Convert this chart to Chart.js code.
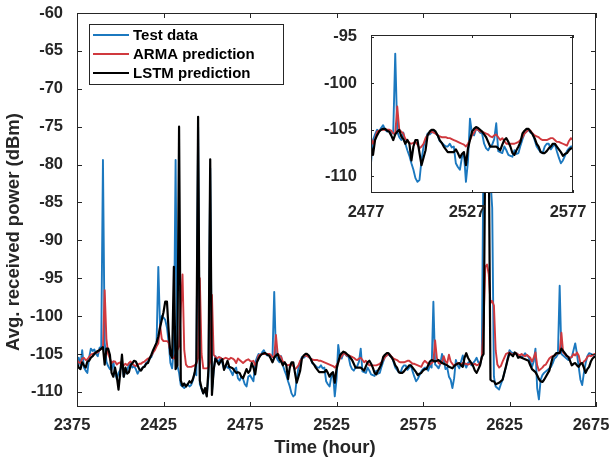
<!DOCTYPE html>
<html>
<head>
<meta charset="utf-8">
<script src="https://cdn.jsdelivr.net/npm/chart.js@4.4.1/dist/chart.umd.min.js"></script>
<style>
	body { margin: 0; background: #fff; overflow: hidden; }
	#wrap { position: relative; width: 610px; height: 458px; }
	#mainChart { position: absolute; left: 0; top: 0; }
	#insetChart { position: absolute; left: 300px; top: 25px; }
</style>
</head>
<body>
<div id="wrap">
	<canvas id="mainChart" width="610" height="458"></canvas>
	<canvas id="insetChart" width="295" height="200"></canvas>
</div>
<script>
// hourly received power, first sample at hour 2375
const firstHour = 2375;

const testData = [
	-107.1, -105.5, -106.5, -104.5, -106.8, -107.2, -107.5, -105.5, -104.3, -104.6, // 2375
	-104.4, -105.0, -105.3, -104.2, -104.0, -79.4, -103.5, -106.0, -106.6, -107.0,
	-107.1, -106.0, -107.5, -108.3, -107.5, -107.1, -106.2, -108.0, -107.3, -107.1,
	-106.5, -106.2, -106.8, -106.6, -107.0, -107.6, -107.2, -107.1, -106.8, -106.6,
	-106.2, -106.0, -105.6, -105.4, -104.8, -104.2, -103.5, -93.5, -101.4, -100.0,
	-100.2, -100.5, -101.5, -103.5, -106.2, -106.9, -104.0, -79.4, -106.5, -107.5, // 2425
	-109.1, -109.3, -109.5, -109.2, -109.0, -109.3, -109.1, -108.5, -107.5, -107.8,
	-75.0, -109.0, -109.6, -110.2, -109.6, -110.5, -108.0, -80.5, -110.0, -107.2,
	-105.3, -105.8, -106.0, -105.5, -106.2, -107.0, -106.5, -106.8, -106.9, -107.3,
	-107.8, -107.0, -106.8, -108.2, -108.5, -108.0, -108.3, -109.0, -109.3, -108.0,
	-107.8, -108.2, -108.6, -106.1, -105.5, -105.0, -105.2, -104.8, -104.5, -105.0, // 2475
	-105.2, -105.0, -105.3, -105.4, -96.8, -105.2, -105.8, -106.1, -105.3, -106.5,
	-107.2, -107.8, -108.6, -109.3, -110.2, -110.6, -110.4, -108.3, -106.8, -106.1,
	-105.4, -105.5, -105.3, -105.2, -105.4, -105.6, -106.2, -106.4, -106.6, -106.8,
	-106.8, -106.5, -106.9, -106.8, -108.6, -109.0, -109.3, -108.0, -107.5, -110.6,
	-108.4, -103.8, -105.4, -105.6, -104.9, -105.0, -105.3, -105.4, -106.5, -107.0, // 2525
	-107.2, -106.8, -106.6, -106.0, -104.3, -107.3, -107.4, -107.5, -106.8, -107.2,
	-107.7, -107.8, -107.9, -107.2, -107.6, -107.5, -106.7, -106.0, -105.4, -105.2,
	-105.0, -105.3, -105.4, -106.1, -106.8, -107.1, -107.4, -107.5, -106.8, -106.5,
	-106.5, -107.1, -106.8, -106.5, -107.3, -108.0, -108.6, -108.3, -107.8, -107.3,
	-107.0, -106.8, -106.8, -107.2, -106.5, -106.8, -98.1, -106.4, -106.6, -106.9, // 2575
	-106.3, -105.0, -105.8, -107.0, -106.8, -108.0, -108.4, -109.5, -108.2, -105.8,
	-106.5, -106.9, -106.0, -105.2, -106.3, -106.8, -106.2, -106.0, -106.5, -106.2,
	-105.9, -105.5, -106.1, -106.4, -105.3, -77.0, -76.0, -78.0, -80.0, -82.0,
	-85.7, -108.0, -109.3, -109.5, -109.7, -109.0, -108.4, -107.5, -106.7, -105.5,
	-104.5, -104.8, -104.9, -105.0, -104.9, -105.1, -105.3, -105.4, -105.2, -104.9, // 2625
	-105.2, -105.4, -106.0, -106.7, -106.0, -104.3, -109.5, -111.0, -108.4, -107.8,
	-107.5, -107.3, -107.1, -106.9, -106.7, -106.2, -105.6, -105.4, -105.0, -96.0,
	-105.0, -105.2, -105.4, -105.6, -105.8, -105.6, -105.4, -104.5, -103.6, -105.0,
	-106.7, -108.4, -109.1, -107.5, -106.2, -105.3, -104.9, -105.0, -105.1, -105.3,
	-105.4 // 2675
];

const armaData = [
	-105.8, -106.1, -106.2, -105.6, -105.5, -105.8, -105.7, -105.4, -105.1, -105.0, // 2375
	-104.9, -104.8, -104.8, -104.5, -104.3, -104.2, -96.6, -103.0, -105.0, -105.6,
	-106.2, -106.0, -106.0, -106.4, -106.2, -106.1, -106.5, -106.5, -106.3, -106.5,
	-106.2, -106.0, -106.3, -106.5, -106.6, -106.4, -106.3, -106.3, -106.1, -106.0,
	-105.8, -105.6, -105.5, -105.2, -104.8, -104.5, -104.0, -103.6, -101.2, -103.0,
	-103.3, -103.3, -103.3, -103.5, -104.8, -105.5, -105.6, -105.0, -104.5, -104.0, // 2425
	-99.0, -94.5, -104.5, -106.4, -106.7, -106.7, -106.7, -106.6, -106.5, -106.3,
	-105.5, -95.0, -105.0, -106.9, -106.9, -106.9, -106.8, -106.0, -97.2, -105.1,
	-105.4, -105.6, -105.4, -105.5, -105.7, -105.6, -105.5, -105.6, -105.7, -105.5,
	-105.6, -105.8, -106.2, -105.6, -105.8, -106.0, -106.2, -106.0, -105.8, -105.7,
	-105.9, -106.0, -105.9, -106.5, -106.0, -105.2, -105.1, -105.0, -105.0, -105.0, // 2475
	-105.0, -105.0, -105.1, -105.4, -105.4, -102.5, -105.0, -105.2, -105.4, -106.0,
	-106.1, -106.4, -106.5, -106.4, -106.3, -106.6, -107.0, -106.8, -106.5, -105.9,
	-105.6, -105.3, -105.2, -105.3, -105.4, -105.6, -105.7, -105.8, -105.8, -105.8,
	-105.9, -105.9, -106.0, -106.1, -106.2, -106.3, -106.4, -106.5, -106.6, -106.8,
	-106.5, -106.1, -105.6, -105.3, -104.9, -105.0, -105.2, -105.2, -105.3, -105.4, // 2525
	-105.5, -105.7, -105.8, -105.6, -105.5, -105.8, -106.1, -105.9, -106.2, -106.5,
	-106.5, -106.5, -106.5, -106.5, -106.4, -106.3, -106.1, -105.8, -105.4, -105.2,
	-105.0, -105.1, -105.4, -105.6, -105.7, -105.8, -106.0, -106.1, -106.1, -106.1,
	-106.0, -105.9, -105.9, -106.1, -106.3, -106.3, -106.4, -106.5, -106.6, -106.7,
	-106.2, -105.9, -106.1, -106.3, -106.4, -106.2, -106.0, -103.2, -105.5, -106.2, // 2575
	-106.3, -106.0, -105.3, -106.0, -106.2, -105.1, -106.0, -106.3, -106.6, -106.4,
	-106.2, -106.3, -106.4, -106.2, -106.3, -106.3, -106.4, -106.3, -106.2, -106.4,
	-106.3, -106.5, -106.4, -106.2, -105.5, -101.0, -93.5, -93.2, -94.5, -98.3,
	-98.0, -98.6, -104.5, -106.4, -106.8, -106.6, -106.0, -105.5, -105.0, -104.9,
	-104.8, -105.0, -105.1, -105.0, -104.9, -105.1, -105.2, -105.0, -105.2, -105.3, // 2625
	-105.1, -105.3, -105.5, -106.0, -105.5, -104.8, -106.5, -107.2, -107.0, -106.8,
	-106.5, -106.4, -106.0, -105.6, -105.4, -105.3, -105.2, -105.0, -104.9, -104.8,
	-102.2, -104.8, -105.0, -105.3, -105.4, -105.5, -105.4, -105.0, -105.2, -104.8,
	-105.2, -106.2, -106.3, -106.0, -105.8, -105.4, -105.2, -105.3, -105.2, -105.0,
	-105.1 // 2675
];

const lstmData = [
	-106.2, -106.8, -107.0, -106.1, -106.5, -106.8, -106.0, -105.9, -105.5, -105.3, // 2375
	-105.0, -104.8, -104.6, -104.5, -104.3, -104.1, -106.4, -104.3, -104.3, -105.1,
	-107.5, -108.0, -106.8, -108.0, -109.7, -107.5, -105.1, -108.0, -106.8, -107.6,
	-107.4, -106.5, -106.2, -105.9, -106.0, -106.5, -107.0, -107.2, -106.8, -106.7,
	-106.3, -106.2, -105.6, -105.1, -104.5, -104.0, -103.5, -102.7, -101.5, -100.5,
	-99.5, -98.1, -98.1, -102.0, -105.0, -105.5, -93.5, -107.0, -106.5, -75.0, // 2425
	-108.5, -109.2, -108.9, -109.3, -109.0, -108.6, -108.8, -108.3, -107.5, -106.0,
	-73.7, -108.5, -109.5, -110.2, -109.5, -110.6, -107.0, -79.3, -110.4, -107.1,
	-105.6, -106.0, -106.4, -106.0, -105.7, -107.1, -106.5, -105.9, -106.7, -106.8,
	-106.9, -107.2, -107.5, -107.4, -107.5, -108.0, -108.2, -107.6, -107.0, -107.5,
	-107.2, -106.2, -106.8, -107.7, -106.1, -105.6, -105.2, -105.0, -104.9, -104.9, // 2475
	-105.1, -105.2, -105.6, -106.1, -105.5, -105.2, -105.0, -105.7, -106.0, -106.5,
	-106.1, -106.5, -108.3, -106.8, -106.1, -106.1, -107.5, -108.8, -108.0, -107.2,
	-105.6, -105.2, -105.0, -105.0, -105.2, -105.6, -106.1, -106.4, -106.8, -107.1,
	-107.4, -107.4, -107.4, -107.4, -107.1, -107.5, -108.0, -107.6, -107.4, -108.8,
	-107.0, -106.1, -105.2, -104.9, -104.7, -104.8, -105.0, -105.2, -105.5, -105.8, // 2525
	-106.3, -106.8, -106.8, -106.8, -106.8, -107.0, -107.2, -106.6, -106.1, -105.9,
	-106.3, -106.8, -107.5, -107.7, -107.2, -106.8, -106.3, -105.4, -105.1, -104.9,
	-104.9, -105.2, -105.5, -105.9, -106.5, -106.8, -107.4, -107.5, -107.5, -107.3,
	-107.0, -106.8, -106.5, -106.5, -106.8, -107.1, -107.4, -107.8, -107.6, -107.5,
	-107.2, -107.0, -107.0, -106.5, -106.0, -105.8, -105.9, -106.0, -105.9, -105.8, // 2575
	-106.0, -106.2, -106.3, -106.4, -106.5, -106.7, -106.8, -106.9, -106.6, -106.4,
	-106.3, -106.2, -106.5, -106.7, -105.5, -104.9, -105.5, -105.9, -106.2, -106.6,
	-107.2, -107.5, -107.0, -106.5, -105.4, -105.0, -77.0, -76.5, -77.5, -108.4,
	-108.6, -108.6, -109.0, -108.9, -108.8, -108.6, -108.4, -107.5, -106.6, -105.7,
	-104.9, -105.1, -105.3, -104.8, -105.0, -105.5, -105.4, -105.5, -105.6, -105.7, // 2625
	-105.8, -105.9, -106.5, -107.0, -107.2, -107.4, -107.8, -108.3, -108.6, -108.7,
	-108.4, -108.0, -107.6, -107.2, -106.3, -105.4, -105.2, -104.9, -104.9, -104.9,
	-104.3, -104.6, -104.9, -105.2, -105.4, -105.9, -106.5, -106.3, -106.2, -106.5,
	-106.7, -106.3, -106.2, -106.8, -107.5, -107.0, -106.7, -106.0, -105.6, -105.4,
	-105.4 // 2675
];

const seriesNames = ['Test data', 'ARMA prediction', 'LSTM prediction'];
const seriesColors = ['#1b78bf', '#d0393e', '#000000'];

const mainXTicks = [2375, 2425, 2475, 2525, 2575, 2625, 2675];
const mainYTicks = [-110, -105, -100, -95, -90, -85, -80, -75, -70, -65, -60];
const insetXTicks = [2477, 2527, 2577];
const insetYTicks = [-110, -105, -100, -95];

const xTitle = 'Time (hour)';
const yTitle = 'Avg. received power (dBm)';

const axisColor = '#262626';
const fontFamily = '"Liberation Sans", Arial, Helvetica, sans-serif';
const tickFont = { family: fontFamily, size: 16.5, weight: 'bold' };

const hours = testData.map((v, i) => firstHour + i);

function toPoints(values)
{
	return values.map((v, i) => ({ x: hours[i], y: v }));
}

function buildDatasets()
{
	const values = [testData, armaData, lstmData];
	return values.map((vals, i) => ({
		label: seriesNames[i],
		data: toPoints(vals),
		borderColor: seriesColors[i],
		borderWidth: i == 2 ? 2.2 : 1.9,
		borderJoinStyle: 'round',
		pointRadius: 0,
		tension: 0,
		order: 3 - i
	}));
}

// box around the plot area with inward ticks on every side
function boxFrame(tickLen)
{
	return {
		id: 'boxFrame',
		afterDraw(chart) {
			const { ctx, chartArea: a, scales: { x, y } } = chart;
			ctx.save();
			ctx.strokeStyle = axisColor;
			ctx.lineWidth = 1;
			ctx.strokeRect(a.left + 0.5, a.top + 0.5, a.right - a.left - 1, a.bottom - a.top - 1);
			ctx.beginPath();
			x.ticks.forEach(t => {
				const px = Math.round(x.getPixelForValue(t.value)) + 0.5;
				ctx.moveTo(px, a.bottom);
				ctx.lineTo(px, a.bottom - tickLen);
				ctx.moveTo(px, a.top);
				ctx.lineTo(px, a.top + tickLen);
			});
			y.ticks.forEach(t => {
				const py = Math.round(y.getPixelForValue(t.value)) + 0.5;
				ctx.moveTo(a.left, py);
				ctx.lineTo(a.left + tickLen, py);
				ctx.moveTo(a.right, py);
				ctx.lineTo(a.right - tickLen, py);
			});
			ctx.stroke();
			ctx.restore();
		}
	};
}

const whiteArea = {
	id: 'whiteArea',
	beforeDraw(chart) {
		const a = chart.chartArea;
		chart.ctx.save();
		chart.ctx.fillStyle = '#fff';
		chart.ctx.fillRect(a.left, a.top, a.right - a.left, a.bottom - a.top);
		chart.ctx.restore();
	}
};

const legendBox = {
	id: 'legendBox',
	afterDraw(chart) {
		const ctx = chart.ctx;
		const left = 89, top = 24, w = 194, h = 60;
		ctx.save();
		ctx.fillStyle = '#fff';
		ctx.fillRect(left, top, w, h);
		ctx.strokeStyle = axisColor;
		ctx.lineWidth = 1;
		ctx.strokeRect(left + 0.5, top + 0.5, w, h);
		ctx.font = `bold 15px ${fontFamily}`;
		ctx.textBaseline = 'middle';
		ctx.textAlign = 'left';
		chart.data.datasets.forEach((ds, i) => {
			const rowY = top + 11 + i * 19;
			ctx.strokeStyle = ds.borderColor;
			ctx.lineWidth = ds.borderWidth;
			ctx.beginPath();
			ctx.moveTo(left + 4, rowY);
			ctx.lineTo(left + 40, rowY);
			ctx.stroke();
			ctx.fillStyle = '#000';
			ctx.fillText(ds.label, left + 44, rowY + 1);
		});
		ctx.restore();
	}
};

const axisTitles = {
	id: 'axisTitles',
	afterDraw(chart) {
		const ctx = chart.ctx;
		ctx.save();
		ctx.font = `bold 18.5px ${fontFamily}`;
		ctx.fillStyle = axisColor;
		ctx.textAlign = 'center';
		ctx.textBaseline = 'alphabetic';
		ctx.fillText(xTitle, 325, 453);
		ctx.translate(18.5, 232);
		ctx.rotate(-Math.PI / 2);
		ctx.fillText(yTitle, 0, 0);
		ctx.restore();
	}
};

function scaleOptions(min, max, tickValues, size, padding, offset)
{
	return {
		type: 'linear',
		min: min,
		max: max,
		afterBuildTicks: s => { s.ticks = tickValues.map(v => ({ value: v })); },
		grid: { display: false, drawTicks: false },
		border: { display: false },
		ticks: {
			font: tickFont,
			color: axisColor,
			padding: padding,
			labelOffset: offset,
			autoSkip: false,
			maxRotation: 0,
			minRotation: 0,
			callback: v => String(v)
		},
		afterFit: s => {
			if (s.isHorizontal()) {
				s.height = size;
				s.paddingLeft = 0;
				s.paddingRight = 0;
			} else {
				s.width = size;
				s.paddingTop = 0;
				s.paddingBottom = 0;
			}
		}
	};
}

function main()
{
	new Chart(document.getElementById('mainChart').getContext('2d'), {
		type: 'line',
		data: { datasets: buildDatasets() },
		options: {
			responsive: false,
			animation: false,
			devicePixelRatio: 1,
			layout: { padding: { left: 0, top: 13, right: 14, bottom: 0 } },
			plugins: { legend: { display: false }, tooltip: { enabled: false } },
			scales: {
				x: scaleOptions(2375, 2675, mainXTicks, 51, 9, -5),
				y: scaleOptions(-112, -60, mainYTicks, 77, 14, 0)
			}
		},
		plugins: [boxFrame(5), legendBox, axisTitles]
	});

	// zoomed view of hours 2477-2577
	new Chart(document.getElementById('insetChart').getContext('2d'), {
		type: 'line',
		data: { datasets: buildDatasets() },
		options: {
			responsive: false,
			animation: false,
			devicePixelRatio: 1,
			layout: { padding: { left: 0, top: 10, right: 22, bottom: 0 } },
			plugins: { legend: { display: false }, tooltip: { enabled: false } },
			scales: {
				x: scaleOptions(2477, 2577, insetXTicks, 32, 10, -5),
				y: scaleOptions(-111.8, -94.8, insetYTicks, 71, 14, 0)
			}
		},
		plugins: [whiteArea, boxFrame(3)]
	});
}

main();
</script>
</body>
</html>
